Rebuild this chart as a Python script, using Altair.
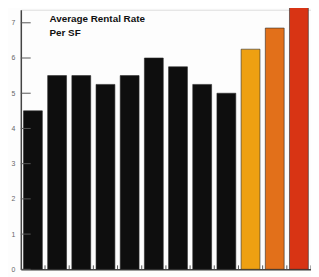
import altair as alt
import pandas as pd

categories = ["1", "2", "3", "4", "5", "6", "7", "8", "9", "10", "11", "12"]
rates = [4.5, 5.5, 5.5, 5.25, 5.5, 6.0, 5.75, 5.25, 5.0, 6.25, 6.85, 7.5]
bar_colors = ["#0e0e0e"] * 9 + ["#eea012", "#e2701a", "#d83414"]
y_ticks = [0, 1, 2, 3, 4, 5, 6, 7]
x_tick_pos = list(range(1, 13))
title_lines = ["Average Rental Rate", "Per SF"]

W, H = 294, 263
YMAX = 7.37

df = pd.DataFrame({"cat": categories, "rate": rates, "color": bar_colors})

def yaxis():
    return alt.Axis(values=y_ticks, title=None, ticks=False, domainColor="#444",
                    domainWidth=1.5, labelColor="#666", labelFontSize=7,
                    labelOverlap=False, labelBound=False, labelFlush=False,
                    labelFont="Liberation Sans", labelPadding=6, grid=False)

yscale = alt.Scale(domain=[0, YMAX], nice=False, zero=True)

bars = alt.Chart(df).mark_bar(stroke="#2a2a2a", strokeWidth=0.6).encode(
    x=alt.X("cat:N", sort=categories,
            scale=alt.Scale(paddingInner=0.22, paddingOuter=0.11),
            axis=alt.Axis(labels=False, ticks=False, title=None, domainColor="#444",
                          domainWidth=1.5, grid=False)),
    y=alt.Y("rate:Q", scale=yscale, axis=yaxis()),
    color=alt.Color("color:N", scale=None),
)

ytick_df = pd.DataFrame({"v": y_ticks})
yticks = alt.Chart(ytick_df).mark_rule(color="#555", strokeWidth=1).encode(
    y=alt.Y("v:Q", scale=yscale, axis=yaxis()),
    x=alt.value(0), x2=alt.value(10),
)

xtick_df = pd.DataFrame({"p": x_tick_pos})
xticks = alt.Chart(xtick_df).mark_rule(color="#555", strokeWidth=1).encode(
    x=alt.X("p:Q", scale=alt.Scale(domain=[0, 12], nice=False), axis=None),
    y=alt.value(H), y2=alt.value(H - 4),
)

label = alt.Chart(pd.DataFrame({"a": [0]})).mark_text(
    text=title_lines, align="left", baseline="alphabetic", font="Liberation Sans",
    fontWeight="bold", fontSize=10, lineHeight=14, color="#111",
).encode(x=alt.value(29), y=alt.value(12.7))

chart = alt.layer(bars, yticks, xticks, label).resolve_scale(x="independent").properties(
    width=W, height=H,
    autosize=alt.AutoSizeParams(type="none"),
    padding={"left": 13, "top": 0, "right": 0, "bottom": 6},
).configure_view(stroke=None).configure(background="#fdfdfd")

chart.save("out.html", embed_options={"renderer": "svg", "actions": False})
